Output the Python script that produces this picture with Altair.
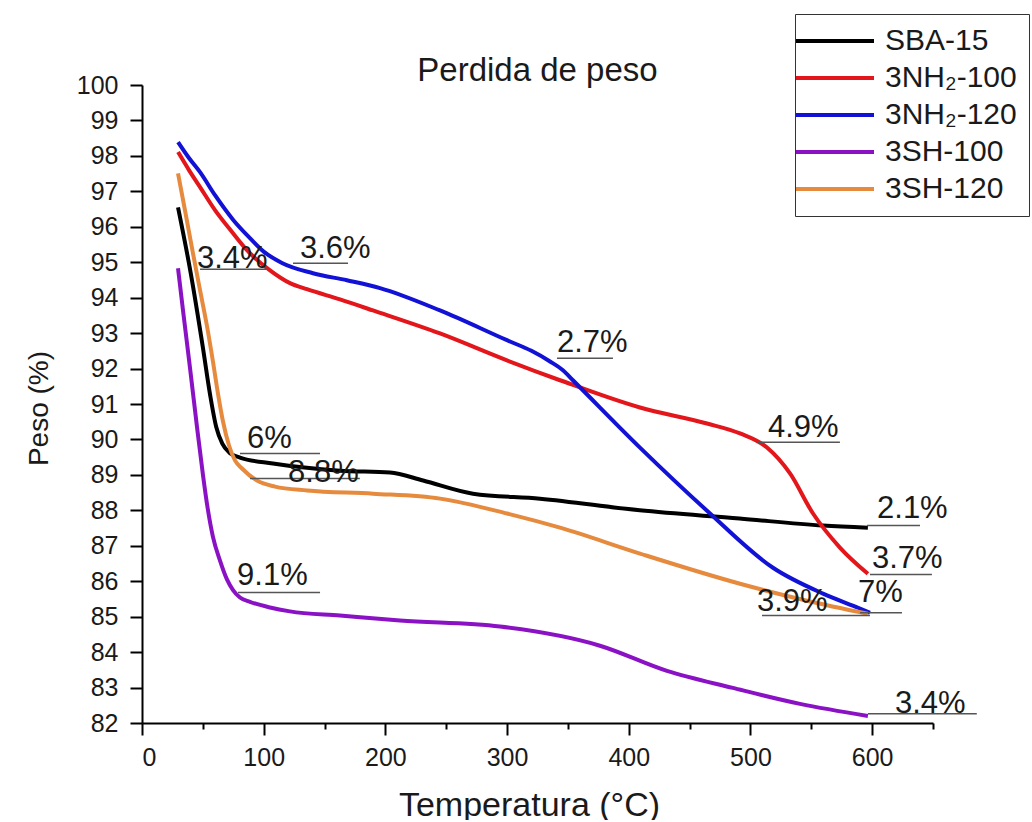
import altair as alt
import pandas as pd

# Thermogravimetric curves: temperature (°C) vs remaining weight (%)
series_names = ["SBA-15", "3NH₂-100", "3NH₂-120", "3SH-100", "3SH-120"]
series_colors = ["#000000", "#e3161b", "#1212d6", "#8a12c4", "#e68a3e"]

temp_sba = [29.6, 40.0, 50.0, 56.0, 61.0, 66.0, 72.0, 80.5, 107.6, 162.7, 203.8,
            231.0, 272.0, 327.0, 409.0, 491.0, 559.6, 596.5]
peso_sba = [96.55, 94.70, 92.60, 91.25, 90.35, 89.88, 89.62, 89.49, 89.32, 89.12, 89.07,
            88.84, 88.47, 88.33, 88.00, 87.77, 87.57, 87.51]

temp_nh100 = [29.6, 38.6, 47.7, 60.0, 74.8, 86.3, 105.2, 121.6, 135.6, 162.7, 189.8, 244.9,
              299.9, 343.5, 409.2, 464.3, 491.4, 513.6, 532.5, 551.4, 573.5, 596.5]
peso_nh100 = [98.11, 97.60, 97.12, 96.47, 95.82, 95.34, 94.77, 94.41, 94.24, 93.95, 93.64, 92.99,
              92.23, 91.67, 90.90, 90.45, 90.17, 89.77, 89.04, 87.91, 86.95, 86.21]

temp_nh120 = [29.6, 38.6, 47.7, 60.0, 74.8, 88.7, 100.0, 115.0, 140.5, 168.4, 195.6, 244.9,
              299.9, 320.0, 335.3, 345.9, 354.1, 409.2, 464.3, 518.5, 559.6, 590.0, 598.2]
peso_nh120 = [98.39, 97.94, 97.54, 96.89, 96.20, 95.68, 95.30, 94.98, 94.69, 94.49, 94.27, 93.64,
              92.80, 92.50, 92.20, 91.95, 91.67, 89.77, 87.99, 86.38, 85.65, 85.23, 85.11]

temp_sh100 = [29.6, 33.7, 39.4, 45.2, 50.1, 54.0, 58.3, 64.1, 69.8, 74.8, 80.5, 88.7, 105.2,
              121.6, 162.7, 212.0, 294.2, 376.3, 431.4, 485.6, 540.7, 596.5]
peso_sh100 = [94.83, 93.64, 92.03, 90.35, 89.00, 88.05, 87.25, 86.58, 86.05, 85.75, 85.54, 85.42,
              85.26, 85.15, 85.03, 84.89, 84.72, 84.18, 83.47, 82.99, 82.54, 82.20]

temp_sh120 = [29.6, 35.3, 41.9, 47.7, 53.4, 58.3, 62.4, 66.6, 71.5, 76.4, 82.2, 94.5, 109.3,
              135.6, 189.8, 244.9, 300.0, 343.5, 409.2, 491.4, 546.4, 596.5]
peso_sh120 = [97.51, 96.47, 95.25, 94.21, 93.20, 92.20, 91.30, 90.50, 89.83, 89.41, 89.18, 88.84,
              88.67, 88.56, 88.47, 88.33, 87.91, 87.51, 86.78, 85.93, 85.45, 85.08]

# Weight-loss annotations: label, text anchor (left, baseline) and underline
label_text = ["3.4%", "3.6%", "2.7%", "4.9%", "6%", "8.8%", "2.1%", "3.7%", "7%", "3.9%", "9.1%", "3.4%"]
label_x = [45.2, 129.8, 341.0, 514.4, 86.3, 120.0, 604.0, 599.8, 588.3, 505.3, 78.1, 618.7]
label_y = [94.83, 95.11, 92.46, 90.06, 89.75, 88.79, 87.77, 86.38, 85.40, 85.17, 85.88, 82.29]
line_x1 = [47.7, 124.1, 341.0, 505.3, 80.5, 88.7, 595.7, 598.2, 590.0, 509.5, 78.9, 596.5]
line_x2 = [103.5, 169.3, 387.0, 573.5, 146.3, 179.0, 639.3, 649.1, 624.5, 598.2, 146.3, 686.0]
line_y = [94.80, 94.97, 92.29, 89.92, 89.60, 88.90, 87.57, 86.19, 85.11, 85.03, 85.68, 82.26]

x_ticks = list(range(0, 651, 50))
y_ticks = [82 + 0.5 * i for i in range(37)]

FONT = "Liberation Sans"
TXT = "#1a1a1a"

curves = []
for name, xs, ys in zip(
    series_names,
    [temp_sba, temp_nh100, temp_nh120, temp_sh100, temp_sh120],
    [peso_sba, peso_nh100, peso_nh120, peso_sh100, peso_sh120],
):
    for t, p in zip(xs, ys):
        curves.append({"Muestra": name, "Temperatura": t, "Peso": p})
curves = pd.DataFrame(curves)

labels = pd.DataFrame({"texto": label_text, "Temperatura": label_x, "Peso": label_y})
underlines = pd.DataFrame({"Temperatura": line_x1, "Temperatura_fin": line_x2, "Peso": line_y})

x_scale = alt.Scale(domain=[0, 650], nice=False, zero=False)
y_scale = alt.Scale(domain=[82, 100], nice=False, zero=False)

x_axis = alt.Axis(
    values=x_ticks,
    labelExpr="datum.value % 100 === 0 ? datum.label : ''",
    format="d",
    labelOverlap=False,
    labelPadding=10,
    tickSize={"condition": {"test": "datum.value % 100 === 0", "value": 12}, "value": 6},
    title="Temperatura (°C)",
    titleFontSize=34,
    titleFont=FONT,
    titleFontWeight="normal",
    titleColor=TXT,
    titleBaseline="alphabetic",
    titleX=387,
    titleY=92,
    grid=False,
)
y_axis = alt.Axis(
    values=y_ticks,
    labelExpr="datum.value % 1 === 0 ? datum.label : ''",
    format="d",
    labelOverlap=False,
    labelPadding=12,
    tickSize={"condition": {"test": "datum.value % 1 === 0", "value": 12}, "value": 6},
    title="Peso (%)",
    titleFontSize=28,
    titleFont=FONT,
    titleFontWeight="normal",
    titleColor=TXT,
    titleBaseline="alphabetic",
    titleX=-95,
    titleY=323,
    grid=False,
)

x_enc = alt.X("Temperatura:Q", scale=x_scale, axis=x_axis)
y_enc = alt.Y("Peso:Q", scale=y_scale, axis=y_axis)

lines = alt.Chart(curves).mark_line(strokeWidth=4, interpolate="monotone").encode(
    x=x_enc,
    y=y_enc,
    color=alt.Color(
        "Muestra:N",
        scale=alt.Scale(domain=series_names, range=series_colors),
        sort=series_names,
        legend=alt.Legend(
            title=None,
            orient="none",
            legendX=653,
            legendY=-71,
            symbolType="M-3,0H3",
            symbolSize=676,
            symbolStrokeWidth=4,
            symbolOffset=13,
            labelFontSize=30,
            labelFont=FONT,
            labelColor=TXT,
            labelOffset=35,
            rowPadding=7,
            padding=12,
            strokeColor="#333333",
            fillColor="white",
        ),
    ),
)

rules = alt.Chart(underlines).mark_rule(color="#555555", strokeWidth=1.5).encode(
    x=x_enc,
    x2="Temperatura_fin:Q",
    y=y_enc,
)

texts = alt.Chart(labels).mark_text(
    align="left", baseline="alphabetic", fontSize=31, font=FONT, color=TXT
).encode(
    x=x_enc,
    y=y_enc,
    text="texto:N",
)

chart = (
    alt.layer(lines, rules, texts)
    .properties(
        width=791,
        height=638,
        title=alt.TitleParams(
            "Perdida de peso",
            fontSize=33,
            font=FONT,
            fontWeight="normal",
            color=TXT,
            anchor="middle",
            frame="group",
            offset=4,
            dy=78,
        ),
        autosize=alt.AutoSizeParams(type="none"),
        padding={"left": 142, "top": 85, "right": 97, "bottom": 97},
    )
    .configure_view(stroke=None)
    .configure_axis(
        domainColor="#000000",
        domainWidth=2,
        tickColor="#000000",
        tickWidth=2,
        labelFontSize=25,
        labelFont=FONT,
        labelColor=TXT,
    )
)

chart.save("out.html", embed_options={"renderer": "svg", "actions": False})
